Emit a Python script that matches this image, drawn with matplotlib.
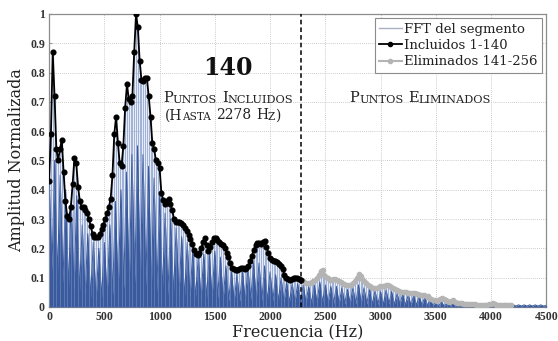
import numpy as np
import matplotlib
matplotlib.use("Agg")
import matplotlib.pyplot as plt
from matplotlib.lines import Line2D

plt.rcParams['font.family'] = ['DejaVu Serif']

# --- data ---------------------------------------------------------------
cut_hz = 2278          # last included point (140)
bin_hz = cut_hz / 139  # spacing of the envelope points

# envelope points 1-140 (black)
incluidos = [
    0.43, 0.59, 0.87, 0.72, 0.54, 0.50, 0.54, 0.57, 0.46, 0.36,
    0.31, 0.30, 0.34, 0.42, 0.51, 0.49, 0.41, 0.36, 0.34, 0.34,
    0.33, 0.32, 0.30, 0.275, 0.25, 0.24, 0.24, 0.24, 0.25, 0.265,
    0.28, 0.30, 0.32, 0.34, 0.37, 0.45, 0.59, 0.65, 0.56, 0.49,
    0.48, 0.55, 0.68, 0.76, 0.71, 0.70, 0.72, 0.87, 1.00, 0.955,
    0.84, 0.775, 0.77, 0.78, 0.78, 0.72, 0.65, 0.56, 0.54, 0.50,
    0.49, 0.475, 0.39, 0.365, 0.35, 0.36, 0.37, 0.35, 0.33, 0.30,
    0.29, 0.29, 0.29, 0.288, 0.278, 0.268, 0.258, 0.245, 0.232, 0.215,
    0.195, 0.182, 0.177, 0.185, 0.20, 0.22, 0.235, 0.21, 0.19, 0.205,
    0.22, 0.235, 0.235, 0.228, 0.222, 0.215, 0.212, 0.20, 0.185, 0.172,
    0.15, 0.132, 0.128, 0.127, 0.127, 0.13, 0.132, 0.132, 0.13, 0.132,
    0.14, 0.155, 0.175, 0.195, 0.21, 0.218, 0.218, 0.215, 0.22, 0.224,
    0.205, 0.185, 0.168, 0.16, 0.157, 0.155, 0.152, 0.148, 0.14, 0.128,
    0.108, 0.10, 0.096, 0.092, 0.095, 0.10, 0.10, 0.098, 0.094, 0.092,
]

# envelope points 141-256 (grey)
eliminados = [
    0.09, 0.085, 0.082, 0.081, 0.083, 0.086, 0.088, 0.093, 0.098, 0.108,
    0.122, 0.127, 0.11, 0.102, 0.097, 0.093, 0.093, 0.095, 0.095, 0.092,
    0.088, 0.086, 0.082, 0.077, 0.075, 0.074, 0.075, 0.076, 0.082, 0.09,
    0.098, 0.112, 0.105, 0.094, 0.088, 0.082, 0.076, 0.072, 0.068, 0.065,
    0.063, 0.064, 0.067, 0.07, 0.07, 0.072, 0.075, 0.076, 0.072, 0.067,
    0.063, 0.06, 0.057, 0.054, 0.052, 0.052, 0.05, 0.05, 0.049, 0.048,
    0.047, 0.046, 0.046, 0.045, 0.043, 0.042, 0.04, 0.039, 0.038, 0.036,
    0.032, 0.028, 0.025, 0.022, 0.02, 0.022, 0.026, 0.03, 0.027, 0.022,
    0.02, 0.018, 0.02, 0.022, 0.018, 0.015, 0.013, 0.012, 0.012, 0.011,
    0.011, 0.01, 0.01, 0.009, 0.009, 0.009, 0.008, 0.008, 0.008, 0.007,
    0.007, 0.007, 0.008, 0.009, 0.01, 0.012, 0.01, 0.008, 0.007, 0.006,
    0.006, 0.006, 0.005, 0.005, 0.005, 0.005,
]

# dense (dark) part of the FFT, every 50 Hz from 0 to 4500 Hz
fft_step = 50
fft_body = [
    0.45, 0.50, 0.45, 0.40, 0.36, 0.38, 0.28, 0.25, 0.22, 0.20,
    0.22, 0.28, 0.36, 0.40, 0.46, 0.52, 0.55, 0.52, 0.48, 0.44,
    0.38, 0.32, 0.30, 0.27, 0.24, 0.22, 0.19, 0.17, 0.18, 0.18,
    0.19, 0.17, 0.14, 0.12, 0.11, 0.12, 0.13, 0.15, 0.15, 0.14,
    0.12, 0.11, 0.10, 0.085, 0.08, 0.08, 0.075, 0.07, 0.075, 0.085,
    0.075, 0.07, 0.07, 0.065, 0.06, 0.065, 0.075, 0.065, 0.06, 0.055,
    0.052, 0.058, 0.052, 0.046, 0.044, 0.04, 0.04, 0.036, 0.033, 0.025,
    0.017, 0.017, 0.014, 0.013, 0.009, 0.007, 0.007, 0.006, 0.006, 0.006,
    0.007, 0.006, 0.005, 0.007, 0.008, 0.007, 0.007, 0.007, 0.007, 0.007,
    0.005,
]
fft_floor = [
    0.12, 0.10, 0.08, 0.06, 0.05, 0.05, 0.04, 0.03, 0.02, 0.03,
    0.03, 0.04, 0.05, 0.06, 0.07, 0.08, 0.08, 0.07, 0.06, 0.05,
    0.05, 0.04, 0.04, 0.035, 0.03, 0.03, 0.03, 0.025, 0.03, 0.03,
    0.03, 0.025, 0.02, 0.02, 0.02, 0.02, 0.025, 0.025, 0.02, 0.02,
    0.02, 0.02, 0.015, 0.015, 0.015, 0.015, 0.015, 0.012, 0.015, 0.015,
    0.012, 0.012, 0.01, 0.01, 0.01, 0.01, 0.012, 0.01, 0.01, 0.008,
    0.008, 0.01, 0.008, 0.008, 0.007, 0.006, 0.006, 0.006, 0.005, 0.004,
    0.003, 0.003, 0.003, 0.003, 0.002, 0.002, 0.002, 0.002, 0.002, 0.002,
    0.002, 0.002, 0.002, 0.002, 0.003, 0.003, 0.003, 0.003, 0.003, 0.003,
    0.002,
]

y_labels = ['0', '0.1', '0.2', '0.3', '0.4', '0.5', '0.6', '0.7', '0.8', '0.9', '1']

# --- figure --------------------------------------------------------------
fig = plt.figure(figsize=(5.58, 3.41), dpi=100)
ax = fig.add_axes([0.088, 0.1, 0.891, 0.859])

f_inc = np.arange(len(incluidos)) * bin_hz
f_eli = np.arange(len(incluidos), len(incluidos) + len(eliminados)) * bin_hz
env = np.array(incluidos + eliminados)
f_env = np.concatenate([f_inc, f_eli])

# FFT: light strokes up to the envelope, dark noisy body below
ax.vlines(f_env, 0, env, color='#9fb1d9', lw=0.9, zorder=2)
f_fft = np.arange(len(fft_body)) * fft_step
zz_x = np.column_stack([f_fft, f_fft + fft_step / 2]).ravel()
zz_y = np.column_stack([fft_body, fft_floor]).ravel()
ax.fill_between(zz_x, 0, zz_y, color='#3a5a9e', lw=0, zorder=3)
ax.plot(zz_x, zz_y, color='#3a5a9e', lw=0.7, zorder=3)
ax.vlines(f_env[::2], 0, env[::2], color='#a7b8dc', lw=0.5, alpha=0.45, zorder=3.5)

ax.plot(np.r_[f_inc[-1], f_eli], [incluidos[-1]] + eliminados, color='#b4b4b4',
        lw=2.0, marker='o', ms=3, zorder=4)
ax.plot(f_inc, incluidos, color='black', lw=1.3, marker='o', ms=3.4, zorder=5)
ax.axvline(cut_hz, color='black', ls=(0, (3, 2)), lw=1.1, zorder=6)

ax.set_xlim(0, 4500)
ax.set_ylim(0, 1)
ax.set_xticks(np.arange(0, 4501, 500))
ax.set_yticks(np.arange(0, 1.01, 0.1))
ax.set_yticklabels(y_labels)
ax.tick_params(direction='in', length=2, color='#999999', labelsize=8.5,
               labelcolor='#333333', pad=3)
for lab in ax.get_xticklabels() + ax.get_yticklabels():
    lab.set_fontweight('bold')
    lab.set_fontfamily('Liberation Serif')
ax.grid(True, ls=(0, (1, 1.5)), color='#bbbbbb', lw=0.6, zorder=0)
ax.set_axisbelow(True)
for sp in ax.spines.values():
    sp.set_color('#8c8c8c')
    sp.set_linewidth(0.9)

ax.set_xlabel('Frecuencia (Hz)', fontsize=11.5, color='#222222', labelpad=1)
ax.set_ylabel('Amplitud Normalizada', fontsize=11.5, color='#222222', labelpad=4)

handles = [
    Line2D([], [], color='#a8b0c4', lw=1.0),
    Line2D([], [], color='black', lw=1.3, marker='o', ms=3),
    Line2D([], [], color='#b4b4b4', lw=1.5, marker='o', ms=3),
]
leg = ax.legend(handles, ['FFT del segmento', 'Incluidos 1-140', 'Eliminados 141-256'],
                loc='upper right', fontsize=9.5, fancybox=False, framealpha=1,
                edgecolor='#8c8c8c', handlelength=1.7, handletextpad=0.2,
                borderpad=0.35, labelspacing=0.25, borderaxespad=0.3)
leg.get_frame().set_linewidth(0.8)
for t in leg.get_texts():
    t.set_color('#222222')


def small_caps(x, y, words, big, small, gap=3.5):
    texts = []
    for word in words:
        for j, (s, is_big) in enumerate(word):
            size = big if is_big else small
            if not texts:
                t = ax.text(x, y, s, fontsize=size, ha='left', va='bottom',
                            color='#222222', zorder=7)
            else:
                dx = gap if j == 0 else 0
                t = ax.annotate(s, xy=(1, 0), xycoords=texts[-1], xytext=(dx, 0),
                                textcoords='offset points', fontsize=size,
                                ha='left', va='bottom', color='#222222', zorder=7)
            texts.append(t)
    fig.canvas.draw()
    r = fig.canvas.get_renderer()
    x0 = min(t.get_window_extent(r).x0 for t in texts)
    x1 = max(t.get_window_extent(r).x1 for t in texts)
    px, py = ax.transData.transform((x, y))
    nx, ny = ax.transData.inverted().transform((px - (x1 - x0) / 2, py))
    texts[0].set_position((nx, ny))
    return texts


ax.text(1620, 0.815, '140', fontsize=17, fontweight='bold', ha='center',
        va='center', color='#111111', zorder=7)
small_caps(1620, 0.69, [[('P', 1), ('UNTOS', 0)], [('I', 1), ('NCLUIDOS', 0)]], 10.5, 8.2)
small_caps(1570, 0.63, [[('(H', 1), ('ASTA', 0)], [('2278', 1)], [('H', 1), ('Z', 0), (')', 1)]],
           10, 7.6)
small_caps(3360, 0.69, [[('P', 1), ('UNTOS', 0)], [('E', 1), ('LIMINADOS', 0)]], 10.5, 8.2)

fig.savefig('out.png', dpi=100)
